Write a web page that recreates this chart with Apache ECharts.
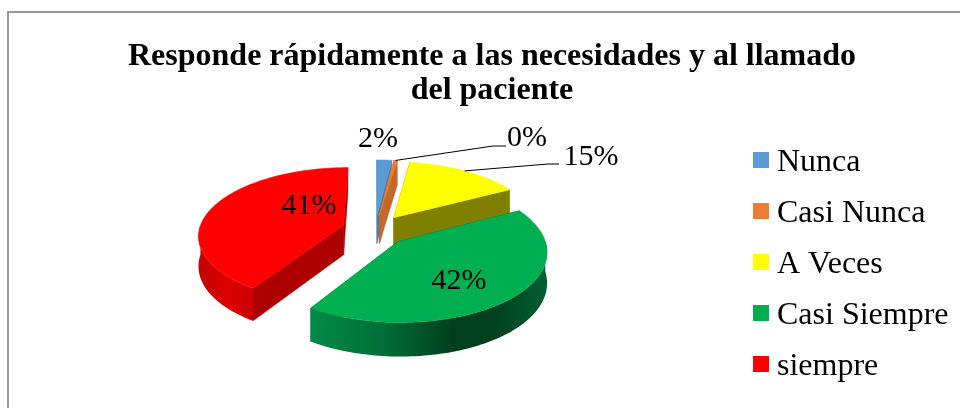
<!DOCTYPE html>
<html><head><meta charset="utf-8">
<style>html,body{margin:0;padding:0;background:#fff}#c{width:960px;height:408px}</style>
<script src="https://cdn.jsdelivr.net/npm/echarts@6/dist/echarts.min.js"></script>
</head><body><div id="c"></div>
<script>
// ---- data ----
const categories = ['Nunca', 'Casi Nunca', 'A Veces', 'Casi Siempre', 'siempre'];
const values = [2, 0.45, 15, 42, 41];
const titleLines = ['Responde rápidamente a las necesidades y al llamado', 'del paciente'];
// ---- styles ----
const topColors = ['#5B9BD5', '#ED7D31', '#FFFF00', '#00B050', '#FF0000'];
const cutColors = ['#4a7fae', '#c4682a', '#7F7F00', '#00602c', '#AD0000'];
const wallStops = [
  [[0,'#4a7fae'],[1,'#3c6a94']],
  [[0,'#c4682a'],[1,'#a85820']],
  [[0,'#7F7F00'],[1,'#6a6a00']],
  [[0,'#008a45'],[0.3,'#006f37'],[0.6,'#003f1e'],[0.78,'#00401f'],[1,'#006030']],
  [[0,'#c00000'],[0.5,'#dc0000'],[1,'#cc0000']]
];
const seriesZ = [2, 2, 2, 4, 3];
const pie = { cx: 375, cy: 230, R: 144.5, tilt: 0.473, persp: 0.134, depth: 29.5, explode: 33 };
const labelPlaces = [
  { x: 378, y: 139 }, { x: 527, y: 138, lead: [[493,146],[506,146]] },
  { x: 591, y: 157, lead: [[548,164],[559,164]] }, { x: 459, y: 281 }, { x: 309, y: 206 }
];
const serif = '"Liberation Serif","Times New Roman",serif';

const total = values.reduce((a, b) => a + b, 0);
function project(u, v, drop) {
  const s = 1 + pie.persp * v / pie.R;
  return [pie.cx + u * s, pie.cy + (pie.tilt * v + (drop || 0)) * s];
}
function makeItem(idx) {
  return function (params, api) {
    const v0 = values.slice(0, idx).reduce((a, b) => a + b, 0) / total * Math.PI * 2;
    const v1 = v0 + api.value(0) / total * Math.PI * 2;
    const mid = (v0 + v1) / 2;
    const ox = Math.sin(mid) * pie.explode, oy = -Math.cos(mid) * pie.explode;
    const at = (a, r) => [ox + Math.sin(a) * r, oy - Math.cos(a) * r];
    const arc = [], front = [];
    const n = Math.max(4, Math.ceil((v1 - v0) * 40));
    for (let i = 0; i <= n; i++) {
      const a = v0 + (v1 - v0) * i / n;
      arc.push(at(a, pie.R));
      if (Math.cos(a) <= 0.02) front.push(at(a, pie.R));
    }
    const apex = [ox, oy];
    const P = (p, d) => project(p[0], p[1], d);
    const children = [];
    const poly = (pts, fill, extra) => children.push({
      type: 'polygon', shape: { points: pts }, style: Object.assign({ fill: fill, stroke: fill, lineWidth: 0.5 }, extra || {}), silent: true
    });
    // cut faces, far one first
    const cuts = [arc[0], arc[arc.length - 1]].sort((a, b) => a[1] - b[1]);
    cuts.forEach(c => poly([P(apex), P(c), P(c, pie.depth), P(apex, pie.depth)], cutColors[idx]));
    // outer wall: only the part that faces the viewer
    if (front.length > 1) {
      const wallTop = front.map(p => P(p));
      const wallBot = front.map(p => P(p, pie.depth)).reverse();
      const xs = wallTop.map(p => p[0]);
      const gx0 = Math.min.apply(null, xs), gx1 = Math.max.apply(null, xs);
      poly(wallTop.concat(wallBot), {
        type: 'linear', x: gx0, y: 0, x2: gx1 + 0.01, y2: 0, global: true,
        colorStops: wallStops[idx].map(s => ({ offset: s[0], color: s[1] }))
      }, { stroke: null, lineWidth: 0 });
    }
    // top face
    poly([P(apex)].concat(arc.map(p => P(p))), topColors[idx]);
    // label
    const lp = labelPlaces[idx];
    if (lp.lead) {
      const anchor = P(at(mid, pie.R));
      children.push({ type: 'polyline', shape: { points: [anchor].concat(lp.lead) },
        style: { fill: null, stroke: '#000', lineWidth: 1 }, silent: true, z2: 5 });
    }
    children.push({ type: 'text', x: lp.x, y: lp.y, z2: 6, silent: true, style: {
      text: Math.round(api.value(0)) + '%', font: '30px ' + serif, fill: '#000', align: 'center', verticalAlign: 'middle' } });
    return { type: 'group', children: children };
  };
}

const chart = echarts.init(document.getElementById('c'), null, { renderer: 'canvas' });
chart.setOption({
  animation: false,
  backgroundColor: '#fff',
  title: {
    text: titleLines.join('\n'), left: 487, top: 35, textAlign: 'center',
    textStyle: { fontFamily: serif, fontWeight: 'bold', fontSize: 32, lineHeight: 34, color: '#000' }
  },
  legend: {
    orient: 'vertical', left: 753, top: 147, icon: 'rect', itemWidth: 16, itemHeight: 16, itemGap: 19, padding: 0,
    data: categories, selectedMode: false,
    formatter: name => '{t|' + name + '}',
    textStyle: { padding: [6, 0, 0, 3], rich: { t: { fontFamily: serif, fontSize: 32, lineHeight: 34, color: '#000' } } }
  },
  graphic: [{ type: 'rect', shape: { x: 8, y: 12, width: 960, height: 420 }, style: { fill: 'none', stroke: '#999999', lineWidth: 2 }, silent: true, z: 0 }],
  series: categories.map((name, i) => ({
    type: 'custom', name: name, coordinateSystem: 'none', z: seriesZ[i], silent: true,
    itemStyle: { color: topColors[i] },
    renderItem: makeItem(i), data: [[values[i]]]
  }))
});
</script></body></html>
